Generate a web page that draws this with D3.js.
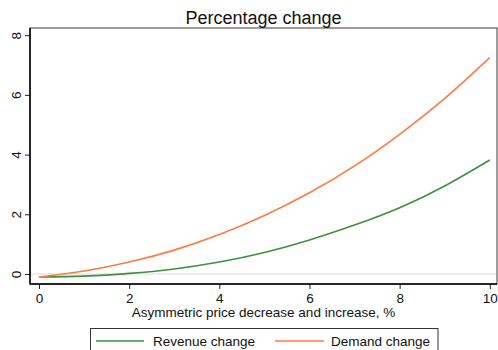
<!DOCTYPE html>
<html>
<head>
<meta charset="utf-8">
<script src="https://cdn.jsdelivr.net/npm/d3@7"></script>
<style>
  html, body { margin: 0; padding: 0; background: #fff; }
  svg { display: block; font-family: "Liberation Sans", Arial, Helvetica, sans-serif; }
</style>
</head>
<body>
<svg id="chart" width="498" height="350"></svg>
<script>
// Price change (%) on the x axis
const priceChange = [0, 1, 2, 3, 4, 5, 6, 7, 8, 9, 10];
// Percentage change in revenue and in demand
const revenueChange = [-0.10, -0.07, 0.02, 0.17, 0.40, 0.72, 1.14, 1.64, 2.22, 2.95, 3.82];
const demandChange  = [-0.10, 0.10, 0.40, 0.80, 1.32, 1.96, 2.72, 3.62, 4.68, 5.88, 7.25];
const xTicks = [0, 2, 4, 6, 8, 10];
const yTicks = [0, 2, 4, 6, 8];
const seriesNames = ["Revenue change", "Demand change"];

const svg = d3.select("#chart");
const plot = { left: 30, right: 497, top: 28, bottom: 284 };

const x = d3.scaleLinear().domain([-0.2, 10.16]).range([plot.left, plot.right]);
const y = d3.scaleLinear().domain([-0.335, 8.24]).range([plot.bottom, plot.top]);

// plot frame
svg.append("rect")
  .attr("x", plot.left).attr("y", plot.top)
  .attr("width", plot.right - plot.left).attr("height", plot.bottom - plot.top)
  .attr("fill", "none").attr("stroke", "#3a3a3a").attr("stroke-width", 1);

// zero reference line
svg.append("line")
  .attr("x1", plot.left + 1).attr("x2", plot.right - 1)
  .attr("y1", y(0)).attr("y2", y(0))
  .attr("stroke", "#e6e6e6").attr("stroke-width", 1.5);

// axes
const xAxis = svg.append("g")
  .attr("transform", `translate(0,${plot.bottom})`)
  .call(d3.axisBottom(x).tickValues(xTicks).tickSize(5).tickPadding(4).tickFormat(d3.format("d")));
const yAxis = svg.append("g")
  .attr("transform", `translate(${plot.left},0)`)
  .call(d3.axisLeft(y).tickValues(yTicks).tickSize(5).tickPadding(4).tickFormat(d3.format("d")));

[xAxis, yAxis].forEach(g => {
  g.select(".domain").remove();
  g.selectAll(".tick line").attr("stroke", "#222").attr("stroke-width", 1);
  g.selectAll(".tick text").attr("fill", "#111").style("font-size", "13.5px").style("font-family", null);
});
yAxis.selectAll(".tick text")
  .attr("x", null)
  .attr("text-anchor", "middle")
  .attr("transform", "translate(-14,0) rotate(-90)")
  .attr("dy", "0.35em");

// solid axis lines
svg.append("line").attr("x1", plot.left).attr("x2", plot.left).attr("y1", plot.top).attr("y2", plot.bottom + 0.5)
  .attr("stroke", "#000").attr("stroke-width", 1.5);
svg.append("line").attr("x1", plot.left).attr("x2", plot.right).attr("y1", plot.bottom).attr("y2", plot.bottom)
  .attr("stroke", "#000").attr("stroke-width", 1.5);

// series lines
const colors = ["#3f8f3f", "#ff7a45"];
const line = d3.line()
  .x((d, i) => x(priceChange[i]))
  .y(d => y(d))
  .curve(d3.curveNatural);

[revenueChange, demandChange].forEach((vals, k) => {
  svg.append("path")
    .datum(vals)
    .attr("fill", "none")
    .attr("stroke", colors[k])
    .attr("stroke-width", 1.6)
    .attr("d", line);
});

// title
svg.append("text")
  .attr("x", (plot.left + plot.right) / 2).attr("y", 24)
  .attr("text-anchor", "middle")
  .style("font-size", "18px").attr("fill", "#111")
  .text("Percentage change");

// x axis title
svg.append("text")
  .attr("x", (plot.left + plot.right) / 2).attr("y", 317)
  .attr("text-anchor", "middle")
  .style("font-size", "13.5px").attr("fill", "#111")
  .text("Asymmetric price decrease and increase, %");

// legend
const legend = svg.append("g");
legend.append("rect")
  .attr("x", 90.5).attr("y", 328.5).attr("width", 347.5).attr("height", 30)
  .attr("fill", "#fff").attr("stroke", "#333").attr("stroke-width", 1);
const legendItems = [
  { x1: 96, x2: 144, tx: 153 },
  { x1: 275, x2: 324, tx: 331 }
];
legendItems.forEach((it, k) => {
  legend.append("line")
    .attr("x1", it.x1).attr("x2", it.x2).attr("y1", 341).attr("y2", 341)
    .attr("stroke", colors[k]).attr("stroke-width", 1.6);
  legend.append("text")
    .attr("x", it.tx).attr("y", 346)
    .style("font-size", "13.5px").attr("fill", "#111")
    .text(seriesNames[k]);
});
</script>
</body>
</html>
